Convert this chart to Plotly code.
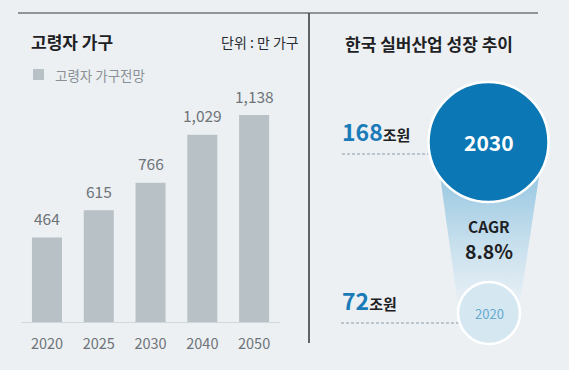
import plotly.graph_objects as go

# ---------------- data ----------------
years = ["2020", "2025", "2030", "2040", "2050"]
households = [464, 615, 766, 1029, 1138]          # 만 가구
series_name = "고령자 가구전망"
left_title = "고령자 가구"
unit_text = "단위 : 만 가구"

right_title = "한국 실버산업 성장 추이"
market_years = ["2020", "2030"]
market_values = [72, 168]                          # 조원
market_unit = "조원"
cagr_label = "CAGR"
cagr_value = "8.8%"

# ---------------- style ----------------
W, H = 569, 370
BG = "#ecf0f3"
BAR = "#b8c1c6"
GRAY_TXT = "#6e7479"
BLUE = "#0b77b4"
LIGHT = "#d5e8f2"
FONT = "Noto Sans CJK KR"
TRANSPARENT = "rgba(0,0,0,0)"

def px(x):
    return x / W

def py(y):
    return 1 - y / H

fig = go.Figure()

# bar chart (left panel)
fig.add_trace(go.Bar(
    x=years, y=households, name=series_name,
    marker=dict(color=BAR, line=dict(width=0)),
    text=[f"{v:,}" for v in households], textposition="none",
    xaxis="x", yaxis="y", showlegend=False, hoverinfo="x+y",
))

base_px, top_px = 322, 80
scale = 207 / 1138  # px per unit
fig.update_layout(
    xaxis=dict(domain=[px(21.1), px(280)], type="category", range=[-0.5, 4.5],
               showline=True, linecolor="#d2d7db", linewidth=1,
               ticks="outside", ticklen=9, tickcolor=TRANSPARENT,
               tickfont=dict(size=14.5, color=GRAY_TXT, family=FONT),
               showgrid=False, zeroline=False, fixedrange=True, anchor="y"),
    yaxis=dict(domain=[py(base_px), py(top_px)], range=[0, (base_px - top_px) / scale],
               visible=False, fixedrange=True, anchor="x"),
    bargap=0.42,
)

annotations = []
for i, v in enumerate(households):
    annotations.append(dict(x=i, y=v, xref="x", yref="y", text=f"{v:,}",
                            showarrow=False, yanchor="middle", yshift=19.5,
                            font=dict(size=15.5, color=GRAY_TXT, family=FONT)))

# left header texts
annotations += [
    dict(x=px(29), y=py(42), xref="paper", yref="paper", text=f"<b>{left_title}</b>",
         showarrow=False, xanchor="left", yanchor="middle",
         font=dict(size=17, color="#1e2124", family=FONT)),
    dict(x=px(301), y=py(42), xref="paper", yref="paper", text=unit_text,
         showarrow=False, xanchor="right", yanchor="middle",
         font=dict(size=14, color="#2a2d30", family=FONT)),
    dict(x=px(53), y=py(75), xref="paper", yref="paper", text=series_name,
         showarrow=False, xanchor="left", yanchor="middle",
         font=dict(size=13.5, color="#8b9196", family=FONT)),
]

shapes = [
    # legend swatch
    dict(type="rect", xref="paper", yref="paper", x0=px(33), x1=px(44),
         y0=py(69), y1=py(80), fillcolor=BAR, line=dict(width=0)),
    # top rule
    dict(type="line", xref="paper", yref="paper", x0=px(18), x1=px(538),
         y0=py(13), y1=py(13), line=dict(color="#8e9498", width=1.8)),
    # vertical divider
    dict(type="line", xref="paper", yref="paper", x0=px(309), x1=px(309),
         y0=py(13), y1=py(343), line=dict(color="#3c4044", width=1.6)),
]

# ---------------- right panel (pixel overlay axes) ----------------
fig.update_layout(
    xaxis2=dict(domain=[0, 1], range=[0, W], visible=False, fixedrange=True, anchor="y2"),
    yaxis2=dict(domain=[0, 1], range=[H, 0], visible=False, fixedrange=True, anchor="x2"),
)

big_c = (488.5, 142, 60)
small_c = (489, 313, 31)

# funnel with vertical gradient
fig.add_trace(go.Scatter(
    x=[436.5, 543, 518.5, 459, 436.5], y=[150, 150, 313, 313, 150],
    xaxis="x2", yaxis="y2", mode="lines", line=dict(width=0),
    fill="toself",
    fillgradient=dict(type="vertical", start=185, stop=300,
                      colorscale=[[0, "#9fcbe3"], [0.5, "#c6dfed"], [1, "#e7eff5"]]),
    showlegend=False, hoverinfo="skip",
))

# dashed guide lines (below circles)
shapes += [
    dict(type="line", xref="x2", yref="y2", x0=342, x1=470, y0=154, y1=154,
         line=dict(color="#8a9cab", width=1, dash="3px,2px"), layer="below"),
    dict(type="line", xref="x2", yref="y2", x0=341, x1=470, y0=323, y1=323,
         line=dict(color="#8a9cab", width=1, dash="3px,2px"), layer="below"),
]
# circles
for (cx, cy, r), fill in [(big_c, BLUE), (small_c, LIGHT)]:
    shapes.append(dict(type="circle", xref="x2", yref="y2",
                       x0=cx - r, x1=cx + r, y0=cy - r, y1=cy + r,
                       fillcolor=fill, line=dict(color="white", width=2.5), layer="above"))

annotations += [
    dict(x=343, y=43, xref="x2", yref="y2", text=f"<b>{right_title}</b>",
         showarrow=False, xanchor="left", yanchor="middle",
         font=dict(size=17, color="#1e2124", family=FONT)),
    dict(x=big_c[0], y=big_c[1], xref="x2", yref="y2", text=f"<b>{market_years[1]}</b>",
         showarrow=False, font=dict(size=21, color="white", family=FONT)),
    dict(x=small_c[0], y=small_c[1], xref="x2", yref="y2", text=market_years[0],
         showarrow=False, font=dict(size=13, color="#66a8d0", family=FONT)),
    dict(x=489, y=225.5, xref="x2", yref="y2", text=f"<b>{cagr_label}</b>",
         showarrow=False, font=dict(size=15.5, color="#1e2124", family=FONT)),
    dict(x=489, y=250.5, xref="x2", yref="y2", text=f"<b>{cagr_value}</b>",
         showarrow=False, font=dict(size=19.5, color="#1e2124", family=FONT)),
]
for val, yc in [(market_values[1], 131), (market_values[0], 300)]:
    annotations.append(dict(
        x=340, y=yc, xref="x2", yref="y2", showarrow=False,
        xanchor="left", yanchor="middle",
        text=(f"<b><span style='font-size:23px;color:#1b7bb9'>{val}</span>"
              f"<span style='font-size:15px;color:#1e2124'>{market_unit}</span></b>"),
        font=dict(size=15, color="#1e2124", family=FONT)))

fig.update_layout(
    width=W, height=H, margin=dict(l=0, r=0, t=0, b=0),
    paper_bgcolor=BG, plot_bgcolor=TRANSPARENT,
    annotations=annotations, shapes=shapes,
    font=dict(family=FONT),
)

fig.write_html("out.html", config={"displayModeBar": False},
               post_script="document.body.style.margin='0';document.body.style.background='" + BG + "';")
